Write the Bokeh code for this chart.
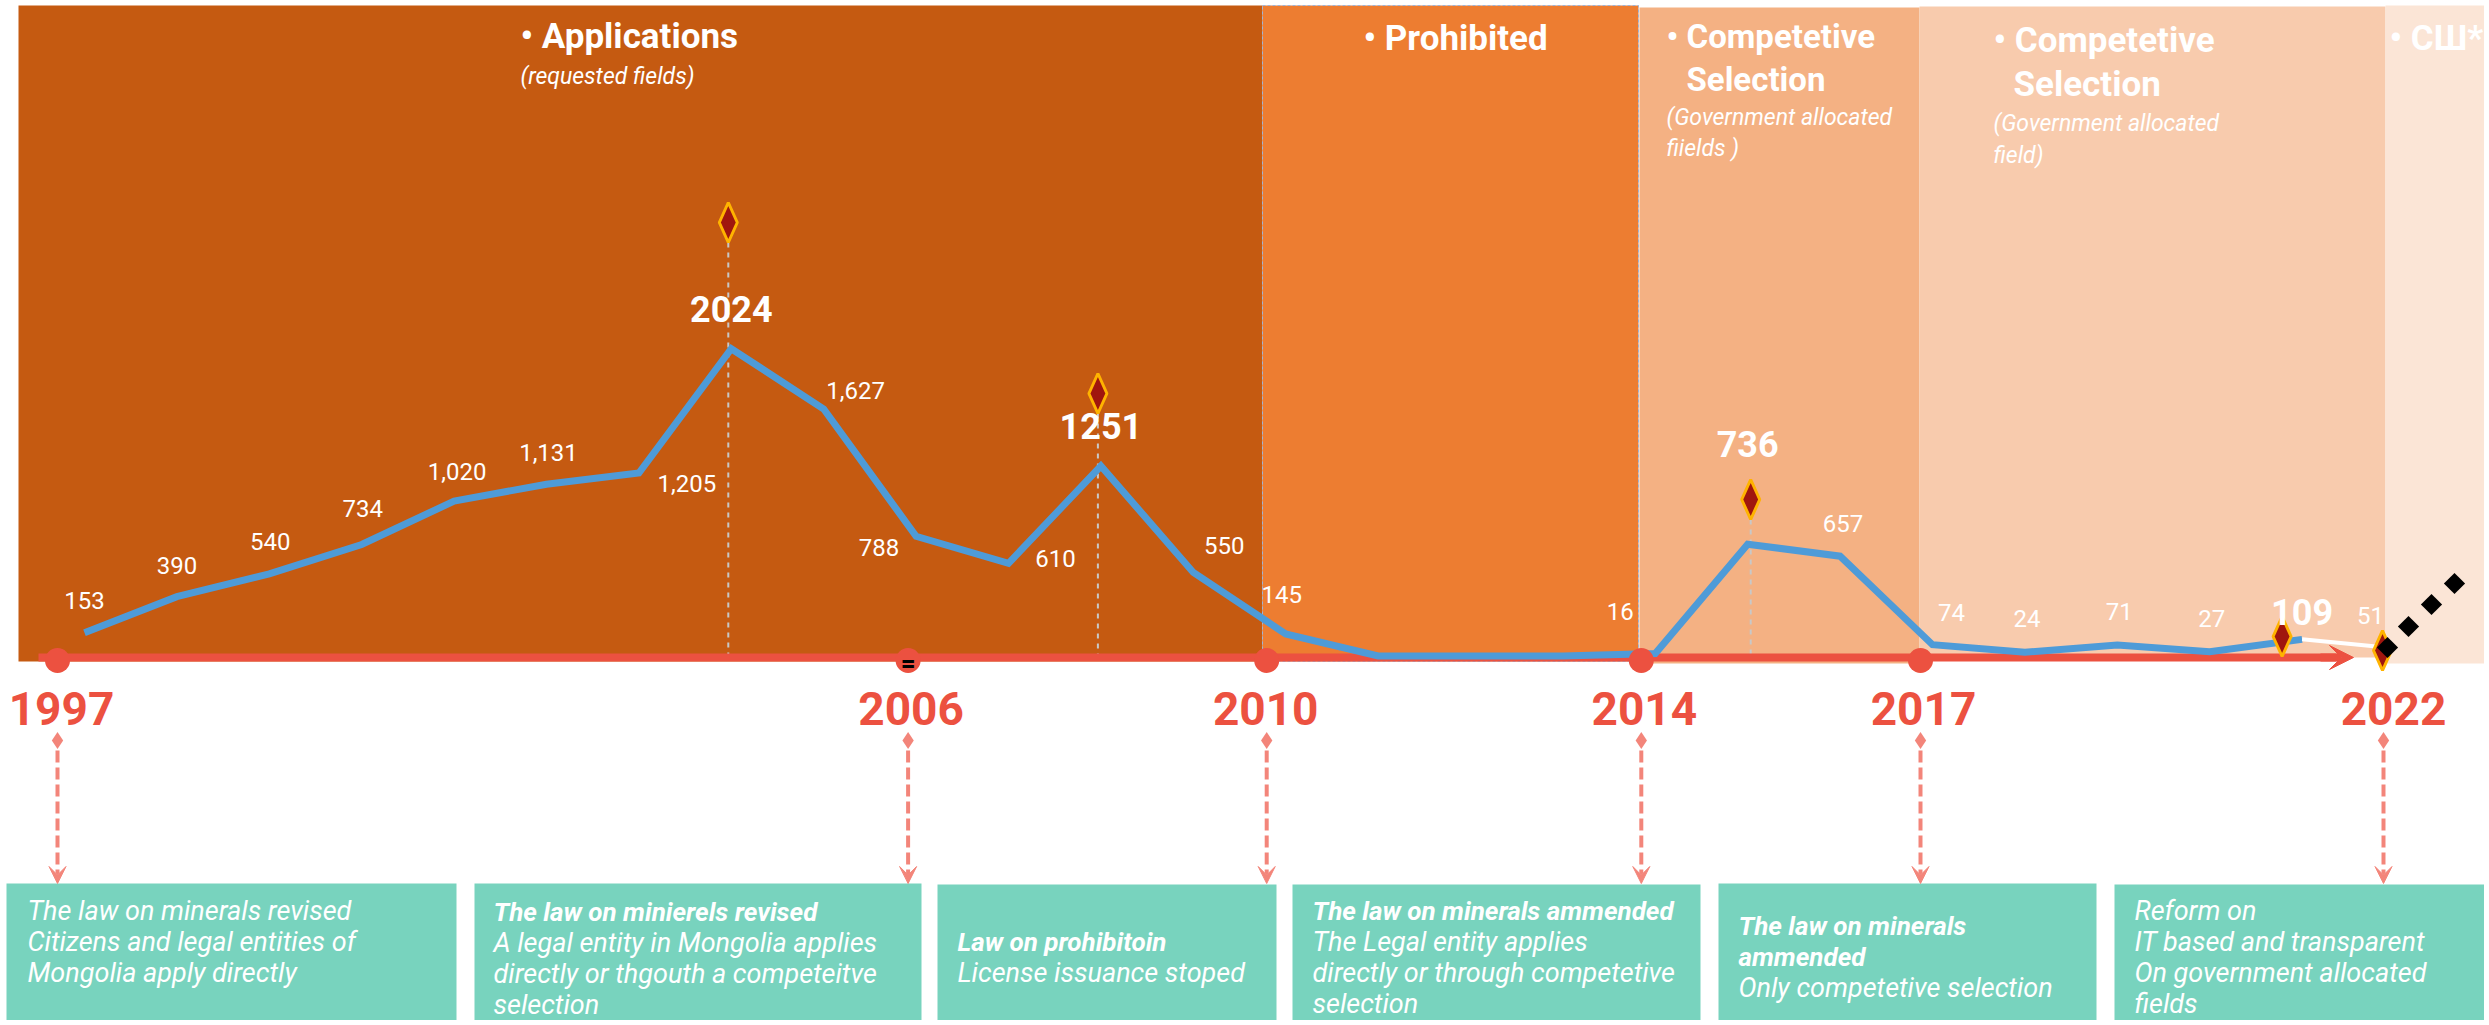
from bokeh.plotting import figure
from bokeh.models import Range1d, Arrow, VeeHead, ColumnDataSource
from bokeh.core.properties import value
from bokeh.embed import file_html
from bokeh.resources import INLINE

# ---------------- data ----------------
years = list(range(1997, 2023))
applications = [153, 390, 540, 734, 1020, 1131, 1205, 2024, 1627, 788, 610, 1251, 550,
                145, 0, 0, 0, 16, 736, 657, 74, 24, 71, 27, 109, 51]
peak_years = [2004, 2008, 2015, 2021]
marker_years = [2004, 2008, 2015, 2021, 2022]
milestone_years = [1997, 2006, 2010, 2014, 2017, 2022]
milestone_labels = ["1997", "2006", "2010", "2014", "2017", "2022"]

phase_title_lines = [["• Applications"], ["• Prohibited"], ["• Competetive", "Selection"],
                     ["• Competetive", "Selection"], ["• СШ*"]]
phase_note_lines = [["(requested fields)"], [], ["(Government allocated", "fiields )"],
                    ["(Government allocated", "field)"], []]

law_boxes = [
    [("The law on minerals revised", False), ("Citizens and legal entities of", False),
     ("Mongolia apply  directly", False)],
    [("The law on minierels revised", True), (" A legal entity in Mongolia applies", False),
     ("directly or thgouth a competeitve", False), ("selection", False)],
    [("Law on prohibitoin", True), ("License issuance stoped", False)],
    [("The law on minerals ammended", True), ("The Legal entity applies", False),
     ("directly or through competetive", False), ("selection", False)],
    [("The law on minerals", True), ("ammended", True), ("Only competetive selection", False)],
    [("Reform on", False), ("IT based and transparent", False), ("On government allocated", False),
     ("fields", False)],
]

# ---------------- layout / style ----------------
W, H = 2484, 1020
PX0, PX_PER_YEAR = 84.0, 92.4
PY0, PX_PER_UNIT = 655.4, 0.15178


def X(px):
    return 1997 + (px - PX0) / PX_PER_YEAR


def Y(py):
    return (PY0 - py) / PX_PER_UNIT


def px_of_year(y):
    return PX0 + (y - 1997) * PX_PER_YEAR


RED = "#EC5140"
BLUE = "#4E9BD8"
SALMON = "#F3857A"
TEAL = "#78D3BE"
FONT = value("Roboto")

band_colors = ["#C55A11", "#ED7D31", "#F4B183", "#F8CBAD", "#FBE5D6"]
band_left = [18, 1262, 1639, 1919, 2385]
band_right = [1262, 1638, 1919, 2385, 2495]
band_top = [5, 5, 7, 6, 5]
band_bottom = [661, 661, 663, 657, 663]

p = figure(width=W, height=H, output_backend="svg", toolbar_location=None,
           x_range=Range1d(X(0), X(W)), y_range=Range1d(Y(H), Y(0)),
           x_axis_location=None, y_axis_location=None, min_border=0)
p.grid.visible = False
p.outline_line_color = None
p.background_fill_color = "white"
p.border_fill_color = "white"

# bands
p.quad(left=[X(v) for v in band_left], right=[X(v) for v in band_right],
       top=[Y(v) for v in band_top], bottom=[Y(v) for v in band_bottom],
       fill_color=band_colors, line_color=None)
p.quad(left=[X(1262)], right=[X(1638)], top=[Y(5)], bottom=[Y(661)], fill_color=None,
       line_color="#9DB4D8", line_dash="3 2", line_width=1)

# vertical guides from peak markers
marker_nudge = [-3, -3, 3, -20, -12]
marker_cy = [222, 393, 499, 636, 650]
for yr, nd, cy in zip(marker_years[:3], marker_nudge[:3], marker_cy[:3]):
    xx = X(px_of_year(yr) + nd)
    p.segment(x0=[xx], y0=[Y(cy + 20)], x1=[xx], y1=[Y(656)], line_color="#C8C8C8",
              line_width=2, line_dash="5 5")

# timeline
p.segment(x0=[X(38)], y0=[Y(657)], x1=[X(2336)], y1=[Y(657)], line_color=RED, line_width=8)
p.add_layout(Arrow(end=VeeHead(size=24, fill_color=RED, line_color=RED, line_width=1),
                   x_start=X(2320), y_start=Y(657), x_end=X(2353), y_end=Y(657),
                   line_color=RED, line_width=8))

# data line
idx21 = years.index(2021)
p.line(years[:idx21 + 1], applications[:idx21 + 1], line_color=BLUE, line_width=7,
       line_join="miter")
p.line(years[idx21:], applications[idx21:], line_color="white", line_width=4)

# milestone dots
mile_nudge = [-27, -8, -19, -14, -12, -11]
mile_px = [px_of_year(y) + n for y, n in zip(milestone_years, mile_nudge)]
p.scatter([X(v) for v in mile_px[:-1]], [Y(660)] * (len(mile_px) - 1), size=25,
          fill_color=RED, line_color=None)
p.text(x=[X(mile_px[1])], y=[Y(662)], text=["="], text_color="black", text_font=FONT,
       text_font_size="26px", text_font_style="bold", text_align="center",
       text_baseline="middle")

# peak diamonds
dxs, dys = [], []
for yr, nd, cy in zip(marker_years, marker_nudge, marker_cy):
    cx = px_of_year(yr) + nd
    dxs.append([X(cx), X(cx + 9), X(cx), X(cx - 9)])
    dys.append([Y(cy - 20), Y(cy), Y(cy + 20), Y(cy)])
p.patches(dxs, dys, fill_color="#A0160E", line_color="#FFB300", line_width=3)

# black continuation diamonds
blk = [(2387, 647), (2408, 626), (2431, 604), (2454, 583)]
p.scatter([X(a) for a, b in blk], [Y(b) for a, b in blk], marker="square", angle=0.785398,
          size=15, fill_color="black", line_color=None)

# value labels
lab_dx = [0, 0, 1, 1, 3, 2, 48, 0, 32, -37, 47, 0, 31, -4, 0, 0, 0, -35, 0, 3, 19, 2, 2, 2, 0, -24]
lab_dy = [-32, -31, -32, -36, -30, -32, 10, -40, -18, 11, -5, -40, -27, -39, 0, 0, 0, -42,
          -100, -33, -32, -34, -34, -33, -27, -33]
reg = dict(x=[], y=[], t=[], xo=[], yo=[])
bold = dict(x=[], y=[], t=[], xo=[], yo=[])
for yr, v, dx, dy in zip(years, applications, lab_dx, lab_dy):
    if v == 0:
        continue
    d = bold if yr in peak_years else reg
    d["x"].append(yr)
    d["y"].append(v)
    d["t"].append(str(v) if yr in peak_years else f"{v:,}")
    d["xo"].append(dx)
    d["yo"].append(dy)
p.text(x="x", y="y", text="t", x_offset="xo", y_offset="yo", source=ColumnDataSource(reg),
       text_color="white", text_font=FONT, text_font_size="24px", text_align="center",
       text_baseline="middle")
p.text(x="x", y="y", text="t", x_offset="xo", y_offset="yo", source=ColumnDataSource(bold),
       text_color="white", text_font=FONT, text_font_size="36px", text_font_style="bold",
       text_align="center", text_baseline="middle")

# phase titles (centres of lines)
title_x = [520, 1363, 1666, 1993, 2389]
title_cy = [[36], [38], [36, 79], [40, 84], [38]]
title_size = [35, 35, 33, 35, 35]
note_cy = [[76], [], [117, 148], [123, 155], []]
for i, lines in enumerate(phase_title_lines):
    for j, line in enumerate(lines):
        p.text(x=[X(title_x[i] + (20 if j else 0))], y=[Y(title_cy[i][j])], text=[line],
               text_color="white", text_font=FONT, text_font_size=f"{title_size[i]}px",
               text_font_style="bold", text_align="left", text_baseline="middle")
    for j, line in enumerate(phase_note_lines[i]):
        p.text(x=[X(title_x[i])], y=[Y(note_cy[i][j])], text=[line], text_color="white",
               text_font=FONT, text_font_size="23px", text_font_style="italic",
               text_align="left", text_baseline="middle")

# milestone year labels + small diamonds + dashed arrows
label_dx = [4, 3, -1, 3, 3, 10]
p.text(x=[X(v + d) for v, d in zip(mile_px, label_dx)], y=[Y(708)] * len(mile_px),
       text=milestone_labels, text_color=RED, text_font=FONT, text_font_size="46px",
       text_font_style="bold", text_align="center", text_baseline="middle")
p.scatter([X(v) for v in mile_px], [Y(740)] * len(mile_px), marker="diamond", size=17,
          fill_color=SALMON, line_color=None)
arrow_src = ColumnDataSource(dict(x0=[X(v) for v in mile_px], y0=[Y(750)] * len(mile_px),
                                  x1=[X(v) for v in mile_px], y1=[Y(883)] * len(mile_px)))
p.add_layout(Arrow(end=VeeHead(size=17, fill_color=SALMON, line_color=SALMON, line_width=1),
                   source=arrow_src, x_start="x0", y_start="y0", x_end="x1", y_end="y1",
                   line_color=SALMON, line_width=4, line_dash="12 5"))

# law boxes
box_left = [6, 474, 937, 1292, 1718, 2114]
box_right = [456, 921, 1276, 1700, 2096, 2495]
box_top = [883, 883, 884, 884, 883, 884]
p.quad(left=[X(v) for v in box_left], right=[X(v) for v in box_right],
       top=[Y(v) for v in box_top], bottom=[Y(1040)] * 6, fill_color=TEAL, line_color=None)
text_x = [27, 493, 957, 1312, 1738, 2134]
first_cy = [910, 911, 941, 910, 925, 910]
line_step = [31, 31.3, 31, 31.3, 31, 31.3]
for i, lines in enumerate(law_boxes):
    for j, (line, isbold) in enumerate(lines):
        p.text(x=[X(text_x[i])], y=[Y(first_cy[i] + j * line_step[i])], text=[line],
               text_color="white", text_font=FONT,
               text_font_size="26px" if isbold else "27px",
               text_font_style="bold italic" if isbold else "italic",
               text_align="left", text_baseline="middle")

open("out.html", "w").write(file_html(p, INLINE))
